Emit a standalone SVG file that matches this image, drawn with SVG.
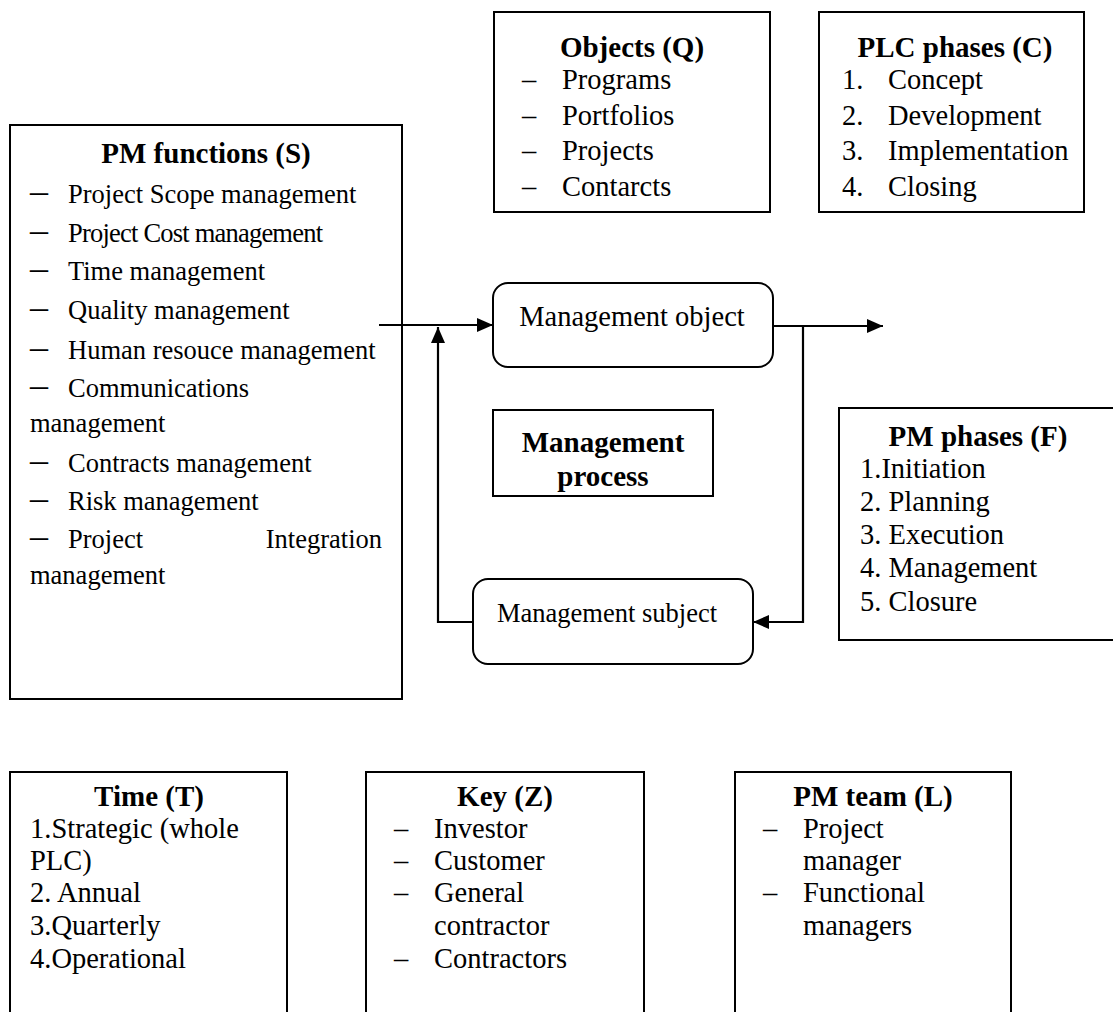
<svg xmlns="http://www.w3.org/2000/svg" width="1113" height="1012" viewBox="0 0 1113 1012">
  <defs>
    <style>
      text { font-family: "Liberation Serif", "Times New Roman", serif; fill: #000; }
      .box { fill: #fff; stroke: #000; stroke-width: 2; }
      .ttl { font-size: 29px; font-weight: bold; text-anchor: middle; }
      .it { font-size: 28.5px; }
      .sm { font-size: 26.5px; }
      .dash { font-size: 36px; }
      .ln { fill: none; stroke: #000; stroke-width: 2.2; }
    </style>
    <marker id="ah" viewBox="0 0 16 14" refX="16" refY="7" markerWidth="16" markerHeight="14" markerUnits="userSpaceOnUse" orient="auto">
      <path d="M0,0 L16,7 L0,14 Z" fill="#000"/>
    </marker>
  </defs>
  <rect width="1113" height="1012" fill="#fff"/>

  <!-- PM functions -->
  <g id="pm-functions">
    <rect class="box" x="10" y="125" width="392" height="574"/>
    <text class="ttl" x="206" y="163">PM functions (S)</text>
    <g class="sm">
      <text class="dash" x="30" y="203">–</text><text x="68" y="203">Project Scope management</text>
      <text class="dash" x="30" y="242">–</text><text x="68" y="242" textLength="255" lengthAdjust="spacing">Project Cost management</text>
      <text class="dash" x="30" y="280">–</text><text x="68" y="280">Time management</text>
      <text class="dash" x="30" y="319">–</text><text x="68" y="319">Quality management</text>
      <text class="dash" x="30" y="359">–</text><text x="68" y="359">Human resouce management</text>
      <text class="dash" x="30" y="397">–</text><text x="68" y="397">Communications</text>
      <text x="30" y="432">management</text>
      <text class="dash" x="30" y="472">–</text><text x="68" y="472">Contracts management</text>
      <text class="dash" x="30" y="510">–</text><text x="68" y="510">Risk management</text>
      <text class="dash" x="30" y="548">–</text><text x="68" y="548">Project</text><text x="382" y="548" text-anchor="end">Integration</text>
      <text x="30" y="584">management</text>
    </g>
  </g>

  <!-- Objects -->
  <g id="objects">
    <rect class="box" x="494" y="12" width="276" height="200"/>
    <text class="ttl" x="632" y="57">Objects (Q)</text>
    <g class="it">
      <text x="522" y="89">–</text><text x="562" y="89">Programs</text>
      <text x="522" y="125">–</text><text x="562" y="125">Portfolios</text>
      <text x="522" y="160">–</text><text x="562" y="160">Projects</text>
      <text x="522" y="196">–</text><text x="562" y="196">Contarcts</text>
    </g>
  </g>

  <!-- PLC phases -->
  <g id="plc-phases">
    <rect class="box" x="819" y="12" width="265" height="200"/>
    <text class="ttl" x="955" y="57">PLC phases (C)</text>
    <g class="it">
      <text x="842" y="89">1.</text><text x="888" y="89">Concept</text>
      <text x="842" y="125">2.</text><text x="888" y="125">Development</text>
      <text x="842" y="160">3.</text><text x="888" y="160">Implementation</text>
      <text x="842" y="196">4.</text><text x="888" y="196">Closing</text>
    </g>
  </g>

  <!-- Management object -->
  <g id="management-object">
    <rect class="box" x="493" y="283" width="280" height="84" rx="15"/>
    <text class="it" x="632" y="326" text-anchor="middle">Management object</text>
  </g>

  <!-- Management process -->
  <g id="management-process">
    <rect class="box" x="493" y="410" width="220" height="86"/>
    <text class="ttl" x="603" y="452">Management</text>
    <text class="ttl" x="603" y="486">process</text>
  </g>

  <!-- Management subject -->
  <g id="management-subject">
    <rect class="box" x="473" y="579" width="280" height="85" rx="15"/>
    <text class="sm" x="497" y="622">Management subject</text>
  </g>

  <!-- PM phases -->
  <g id="pm-phases">
    <rect class="box" x="839" y="408" width="290" height="232"/>
    <text class="ttl" x="978" y="446">PM phases (F)</text>
    <g class="it">
      <text x="860" y="478">1.Initiation</text>
      <text x="860" y="511">2. Planning</text>
      <text x="860" y="544">3. Execution</text>
      <text x="860" y="577">4. Management</text>
      <text x="860" y="611">5. Closure</text>
    </g>
  </g>

  <!-- Time -->
  <g id="time">
    <rect class="box" x="10" y="772" width="277" height="250"/>
    <text class="ttl" x="149" y="806">Time (T)</text>
    <g class="it">
      <text x="30" y="838">1.Strategic (whole</text>
      <text x="30" y="870">PLC)</text>
      <text x="30" y="902">2. Annual</text>
      <text x="30" y="935">3.Quarterly</text>
      <text x="30" y="968">4.Operational</text>
    </g>
  </g>

  <!-- Key -->
  <g id="key">
    <rect class="box" x="366" y="772" width="278" height="250"/>
    <text class="ttl" x="505" y="806">Key (Z)</text>
    <g class="it">
      <text x="394" y="838">–</text><text x="434" y="838">Investor</text>
      <text x="394" y="870">–</text><text x="434" y="870">Customer</text>
      <text x="394" y="902">–</text><text x="434" y="902">General</text>
      <text x="434" y="935">contractor</text>
      <text x="394" y="968">–</text><text x="434" y="968">Contractors</text>
    </g>
  </g>

  <!-- PM team -->
  <g id="pm-team">
    <rect class="box" x="735" y="772" width="276" height="250"/>
    <text class="ttl" x="873" y="806">PM team (L)</text>
    <g class="it">
      <text x="763" y="838">–</text><text x="803" y="838">Project</text>
      <text x="803" y="870">manager</text>
      <text x="763" y="902">–</text><text x="803" y="902">Functional</text>
      <text x="803" y="935">managers</text>
    </g>
  </g>

  <!-- Connectors -->
  <g id="connectors">
    <line class="ln" x1="379" y1="325" x2="493" y2="325" marker-end="url(#ah)"/>
    <polyline class="ln" points="473,622 438,622 438,327" marker-end="url(#ah)"/>
    <line class="ln" x1="773" y1="326" x2="883" y2="326" marker-end="url(#ah)"/>
    <polyline class="ln" points="803,326 803,622 753,622" marker-end="url(#ah)"/>
  </g>
</svg>
